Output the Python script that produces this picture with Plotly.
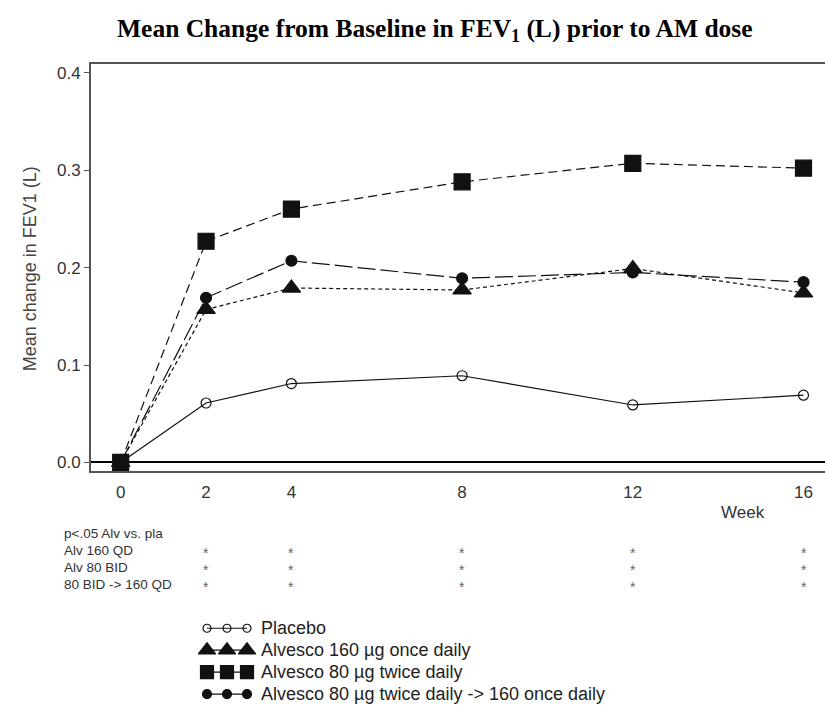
import plotly.graph_objects as go

# ---------------- data ----------------
weeks = [0, 2, 4, 8, 12, 16]
week_ticks = [0, 2, 4, 8, 12, 16]
placebo = [0.0, 0.061, 0.081, 0.089, 0.059, 0.069]
alv160_qd = [0.0, 0.157, 0.179, 0.177, 0.199, 0.174]
alv80_bid = [0.0, 0.227, 0.260, 0.288, 0.307, 0.302]
alv80_to_160 = [0.0, 0.169, 0.207, 0.189, 0.195, 0.185]

y_ticks = [0.0, 0.1, 0.2, 0.3, 0.4]

sig_header = "p<.05 Alv vs. pla"
sig_rows = ["Alv 160 QD", "Alv 80 BID", "80 BID -> 160 QD"]
sig_weeks = [[2, 4, 8, 12, 16], [2, 4, 8, 12, 16], [2, 4, 8, 12, 16]]

legend_names = ["Placebo", "Alvesco 160 \u00b5g once daily",
                "Alvesco 80 \u00b5g twice daily",
                "Alvesco 80 \u00b5g twice daily -> 160 once daily"]

# ---------------- layout helpers (figure pixel -> paper) ----------------
W, H = 825, 709
L, R, T, B = 91, 0, 64, 0
PW, PH = W - L - R, H - T - B


def PX(x):
    return (x - L) / PW


def PY(y):
    return (H - B - y) / PH


plot_bottom = 472
ink = "#111111"
grey = "#555555"
font = "Liberation Sans, Arial, sans-serif"

series = [
    dict(name=legend_names[0], y=placebo, dash="solid", symbol="circle-open", size=10, lsize=8),
    dict(name=legend_names[1], y=alv160_qd, dash="4px,3px", symbol="triangle-up", size=16, lsize=15),
    dict(name=legend_names[3], y=alv80_to_160, dash="18px,5px", symbol="circle", size=11, lsize=9),
    dict(name=legend_names[2], y=alv80_bid, dash="9px,5px", symbol="square", size=16, lsize=13),
]

fig = go.Figure()
for s in series:
    fig.add_trace(go.Scatter(
        x=weeks, y=s["y"], mode="lines+markers", name=s["name"],
        line=dict(color=ink, width=1.2, dash=s["dash"]),
        marker=dict(symbol=s["symbol"], size=s["size"], color=ink,
                    line=dict(color=ink, width=1.2)),
        cliponaxis=False, showlegend=False, xaxis="x", yaxis="y"))

# custom legend swatches (three markers joined by a line), in pixel-like axes x2/y2
legend_rows = [630, 652, 674, 696]
legend_order = [0, 1, 2, 3]  # placebo, 160 QD, 80 BID, 80->160
swatch_x = [207, 227, 247]
for row_y, idx in zip(legend_rows, legend_order):
    s = [d for d in series if d["name"] == legend_names[idx]][0]
    fig.add_trace(go.Scatter(
        x=swatch_x, y=[row_y] * 3, mode="lines+markers",
        line=dict(color=ink, width=1.2),
        marker=dict(symbol=s["symbol"], size=s["lsize"], color=ink, line=dict(color=ink, width=1.2)),
        showlegend=False, hoverinfo="skip", cliponaxis=False, xaxis="x2", yaxis="y2"))

annotations = []
# title
annotations.append(dict(
    text="<b>Mean Change from Baseline in FEV<sub>1</sub> (L) prior to AM dose</b>",
    xref="paper", yref="paper", x=PX(435), y=PY(30), xanchor="center", yanchor="middle",
    showarrow=False, font=dict(family="Liberation Serif, Times New Roman, serif", size=25.5, color="#000")))
# y-axis title
annotations.append(dict(
    text="Mean change in FEV1 (L)", textangle=-90,
    xref="paper", yref="paper", x=PX(30), y=PY(270), xanchor="center", yanchor="middle",
    showarrow=False, font=dict(family=font, size=18, color="#444")))
# Week label
annotations.append(dict(
    text="Week", xref="x2", yref="y2", x=743, y=514, xanchor="center", yanchor="middle",
    showarrow=False, font=dict(family=font, size=17, color="#333")))
# significance table
table_rows = [535, 552, 569, 586]
annotations.append(dict(
    text=sig_header, xref="paper", yref="y2", x=PX(62), y=table_rows[0], xanchor="left",
    yanchor="middle", showarrow=False, font=dict(family=font, size=13.5, color="#333")))
for row_y, label, wks in zip(table_rows[1:], sig_rows, sig_weeks):
    annotations.append(dict(
        text=label, xref="paper", yref="y2", x=PX(62), y=row_y, xanchor="left",
        yanchor="middle", showarrow=False, font=dict(family=font, size=13.5, color="#333")))
    for wk in wks:
        annotations.append(dict(
            text="*", xref="x", yref="y2", x=wk, y=row_y + 3, xanchor="center",
            yanchor="middle", showarrow=False, font=dict(family=font, size=14, color="#666")))
# legend text
for row_y, idx in zip(legend_rows, legend_order):
    annotations.append(dict(
        text=legend_names[idx], xref="x2", yref="y2", x=259, y=row_y, xanchor="left",
        yanchor="middle", showarrow=False, font=dict(family=font, size=18, color="#222")))

x0_px, x16_px = 120.7, 803.5
px_per_wk = (x16_px - x0_px) / 16
zero_px, top_px = 463.7, 72.7
px_per_unit = (zero_px - top_px) / 0.4

fig.update_layout(
    width=W, height=H, margin=dict(l=L, r=R, t=T, b=B),
    paper_bgcolor="white", plot_bgcolor="white",
    annotations=annotations,
    xaxis=dict(
        range=[(L - x0_px) / px_per_wk, (W - x0_px) / px_per_wk],
        tickvals=week_ticks, ticktext=[str(w) for w in week_ticks],
        showgrid=False, zeroline=False,
        showline=True, linecolor=grey, linewidth=2, mirror=True,
        ticks="outside", ticklen=5, tickcolor="rgba(0,0,0,0)",
        tickfont=dict(family=font, size=17, color="#333"),
        anchor="y", fixedrange=True),
    yaxis=dict(
        domain=[PY(plot_bottom), 1],
        range=[-(plot_bottom - zero_px) / px_per_unit, (zero_px - T) / px_per_unit],
        tickvals=y_ticks, ticktext=["%.1f" % v for v in y_ticks],
        showgrid=False, zeroline=True, zerolinecolor="#000", zerolinewidth=1.5,
        showline=True, linecolor=grey, linewidth=2,
        ticks="outside", ticklen=5, tickcolor=grey,
        tickfont=dict(family=font, size=17, color="#333"),
        anchor="x", fixedrange=True),
    xaxis2=dict(domain=[0, 1], range=[L, W], visible=False, anchor="y2", fixedrange=True),
    yaxis2=dict(domain=[0, PY(plot_bottom)], range=[H, plot_bottom], visible=False,
                anchor="x2", fixedrange=True),
)

fig.write_html("out.html")
